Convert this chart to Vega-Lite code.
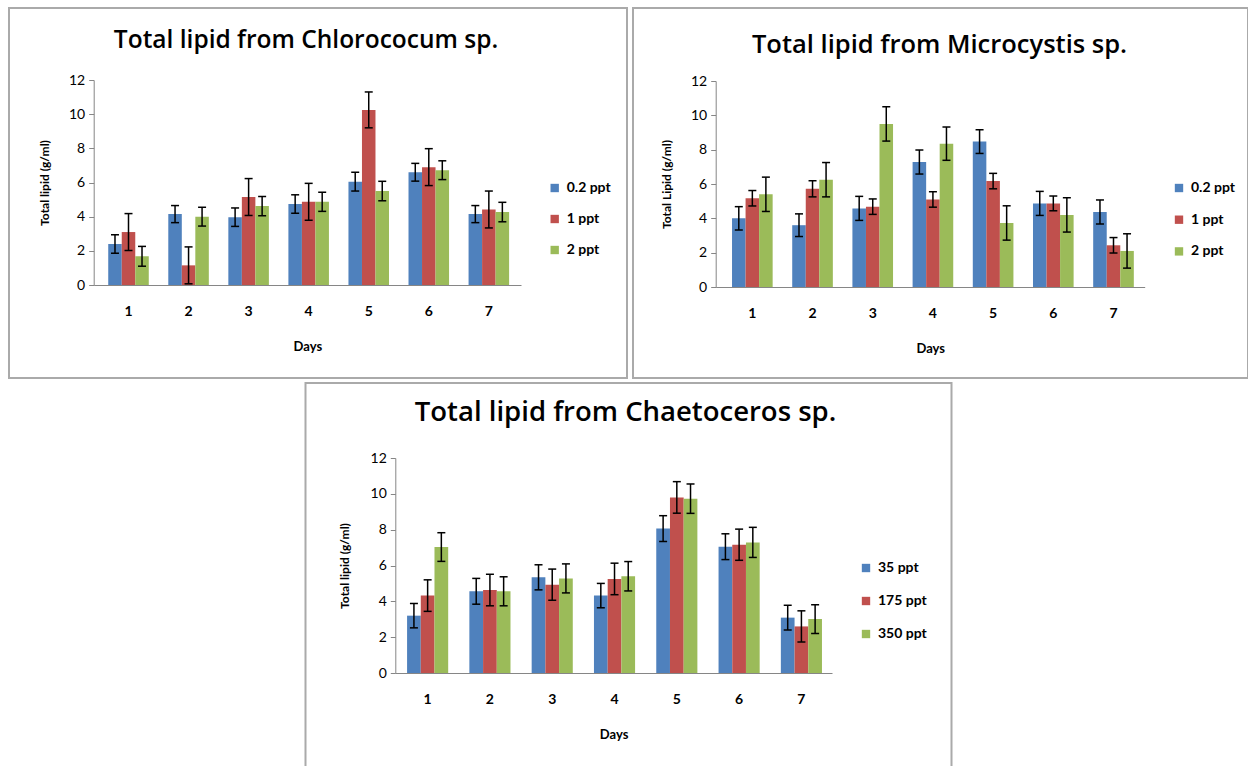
{
  "$schema": "https://vega.github.io/schema/vega-lite/v6.json",
  "padding": {"left": 8, "top": 7, "right": 0, "bottom": 0},
  "center": true,
  "spacing": 3,
  "resolve": {"scale": {"x": "independent", "y": "independent", "color": "independent", "xOffset": "independent"}, "legend": {"color": "independent"}},
  "config": {
    "font": "Lato",
    "view": {"stroke": "#aaaaaa", "strokeWidth": 2},
    "axisY": {"grid": false, "labelFontSize": 14, "labelColor": "#000000", "domainColor": "#868686", "tickColor": "#868686", "tickSize": 5, "labelPadding": 4, "titleFontSize": 12, "titleFontWeight": "bold", "titleColor": "#000000", "titlePadding": 17},
    "axisX": {"ticks": false, "grid": false, "labelAngle": 0, "labelFontSize": 14, "labelFontWeight": "bold", "labelColor": "#000000", "labelPadding": 19, "domainColor": "#868686", "titleFontSize": 13, "titleFontWeight": "bold", "titleColor": "#000000", "titlePadding": 22},
    "legend": {"orient": "none", "title": null, "symbolType": "square", "symbolSize": 70, "symbolStrokeWidth": 0, "labelFontSize": 14, "labelFontWeight": "bold", "labelColor": "#000000", "padding": 0, "labelOffset": 5},
    "title": {"font": "Open Sans", "fontWeight": 600, "color": "#000000", "baseline": "alphabetic", "anchor": "middle", "frame": "group"}
  },
  "vconcat": [
    {
      "resolve": {"scale": {"x": "independent", "y": "independent", "color": "independent", "xOffset": "independent"}, "legend": {"color": "independent"}},
      "hconcat": [
        {
          "width": 618, "height": 370,
          "title": {"text": "Total lipid from Chlorococum sp.", "fontSize": 24.5, "offset": -45, "dx": -12},
          "data": {"values": [
            {"day": "1", "group": "0.2 ppt", "value": 2.40, "lo": 1.86, "hi": 2.94},
            {"day": "1", "group": "1 ppt", "value": 3.10, "lo": 2.02, "hi": 4.18},
            {"day": "1", "group": "2 ppt", "value": 1.68, "lo": 1.10, "hi": 2.26},
            {"day": "2", "group": "0.2 ppt", "value": 4.15, "lo": 3.65, "hi": 4.65},
            {"day": "2", "group": "1 ppt", "value": 1.15, "lo": 0.07, "hi": 2.23},
            {"day": "2", "group": "2 ppt", "value": 4.00, "lo": 3.45, "hi": 4.55},
            {"day": "3", "group": "0.2 ppt", "value": 3.97, "lo": 3.43, "hi": 4.51},
            {"day": "3", "group": "1 ppt", "value": 5.15, "lo": 4.07, "hi": 6.23},
            {"day": "3", "group": "2 ppt", "value": 4.62, "lo": 4.06, "hi": 5.18},
            {"day": "4", "group": "0.2 ppt", "value": 4.74, "lo": 4.20, "hi": 5.28},
            {"day": "4", "group": "1 ppt", "value": 4.87, "lo": 3.79, "hi": 5.95},
            {"day": "4", "group": "2 ppt", "value": 4.87, "lo": 4.31, "hi": 5.43},
            {"day": "5", "group": "0.2 ppt", "value": 6.05, "lo": 5.50, "hi": 6.60},
            {"day": "5", "group": "1 ppt", "value": 10.25, "lo": 9.20, "hi": 11.30},
            {"day": "5", "group": "2 ppt", "value": 5.50, "lo": 4.93, "hi": 6.07},
            {"day": "6", "group": "0.2 ppt", "value": 6.60, "lo": 6.08, "hi": 7.12},
            {"day": "6", "group": "1 ppt", "value": 6.90, "lo": 5.82, "hi": 7.98},
            {"day": "6", "group": "2 ppt", "value": 6.72, "lo": 6.17, "hi": 7.27},
            {"day": "7", "group": "0.2 ppt", "value": 4.15, "lo": 3.65, "hi": 4.65},
            {"day": "7", "group": "1 ppt", "value": 4.42, "lo": 3.34, "hi": 5.50},
            {"day": "7", "group": "2 ppt", "value": 4.27, "lo": 3.70, "hi": 4.84}
          ]},
          "encoding": {
            "x": {"field": "day", "type": "nominal", "scale": {"range": [84.7, 512], "paddingInner": 0.325, "paddingOuter": 0.22, "align": 0.55}, "axis": {"title": "Days", "offset": -93}},
            "xOffset": {"field": "group", "type": "nominal", "scale": {"domain": ["0.2 ppt", "1 ppt", "2 ppt"], "paddingInner": 0, "paddingOuter": 0}}
          },
          "layer": [
            {"mark": {"type": "bar"},
             "encoding": {
               "y": {"field": "value", "type": "quantitative", "title": "Total lipid (g/ml)", "scale": {"domain": [0, 12], "range": [277, 72], "nice": false, "zero": true}, "axis": {"offset": -84.7, "values": [0, 2, 4, 6, 8, 10, 12]}},
               "color": {"field": "group", "type": "nominal", "scale": {"domain": ["0.2 ppt", "1 ppt", "2 ppt"], "range": ["#4f81bd", "#c0504d", "#9bbb59"]}, "legend": {"legendX": 538.7, "legendY": 173, "rowPadding": 17}}
             }},
            {"mark": {"type": "rule", "color": "#000000", "strokeWidth": 1.5},
             "encoding": {"y": {"field": "lo", "type": "quantitative", "title": "Total lipid (g/ml)"}, "y2": {"field": "hi"}}},
            {"mark": {"type": "tick", "color": "#000000", "thickness": 1.5, "size": 8, "opacity": 1},
             "encoding": {"y": {"field": "lo", "type": "quantitative", "title": "Total lipid (g/ml)"}}},
            {"mark": {"type": "tick", "color": "#000000", "thickness": 1.5, "size": 8, "opacity": 1},
             "encoding": {"y": {"field": "hi", "type": "quantitative", "title": "Total lipid (g/ml)"}}}
          ]
        },
        {
          "width": 615, "height": 370,
          "title": {"text": "Total lipid from Microcystis sp.", "fontSize": 25.5, "offset": -50, "dx": -1},
          "data": {"values": [
            {"day": "1", "group": "0.2 ppt", "value": 4.00, "lo": 3.32, "hi": 4.68},
            {"day": "1", "group": "1 ppt", "value": 5.17, "lo": 4.72, "hi": 5.62},
            {"day": "1", "group": "2 ppt", "value": 5.40, "lo": 4.40, "hi": 6.40},
            {"day": "2", "group": "0.2 ppt", "value": 3.60, "lo": 2.94, "hi": 4.26},
            {"day": "2", "group": "1 ppt", "value": 5.72, "lo": 5.25, "hi": 6.19},
            {"day": "2", "group": "2 ppt", "value": 6.25, "lo": 5.25, "hi": 7.25},
            {"day": "3", "group": "0.2 ppt", "value": 4.58, "lo": 3.88, "hi": 5.28},
            {"day": "3", "group": "1 ppt", "value": 4.68, "lo": 4.23, "hi": 5.13},
            {"day": "3", "group": "2 ppt", "value": 9.50, "lo": 8.50, "hi": 10.50},
            {"day": "4", "group": "0.2 ppt", "value": 7.28, "lo": 6.58, "hi": 7.98},
            {"day": "4", "group": "1 ppt", "value": 5.10, "lo": 4.65, "hi": 5.55},
            {"day": "4", "group": "2 ppt", "value": 8.35, "lo": 7.38, "hi": 9.32},
            {"day": "5", "group": "0.2 ppt", "value": 8.47, "lo": 7.78, "hi": 9.16},
            {"day": "5", "group": "1 ppt", "value": 6.17, "lo": 5.72, "hi": 6.62},
            {"day": "5", "group": "2 ppt", "value": 3.73, "lo": 2.73, "hi": 4.73},
            {"day": "6", "group": "0.2 ppt", "value": 4.87, "lo": 4.17, "hi": 5.57},
            {"day": "6", "group": "1 ppt", "value": 4.87, "lo": 4.44, "hi": 5.30},
            {"day": "6", "group": "2 ppt", "value": 4.20, "lo": 3.20, "hi": 5.20},
            {"day": "7", "group": "0.2 ppt", "value": 4.37, "lo": 3.67, "hi": 5.07},
            {"day": "7", "group": "1 ppt", "value": 2.43, "lo": 1.98, "hi": 2.88},
            {"day": "7", "group": "2 ppt", "value": 2.10, "lo": 1.10, "hi": 3.10}
          ]},
          "encoding": {
            "x": {"field": "day", "type": "nominal", "scale": {"range": [82.7, 511.7], "paddingInner": 0.325, "paddingOuter": 0.226, "align": 0.6}, "axis": {"title": "Days", "offset": -91}},
            "xOffset": {"field": "group", "type": "nominal", "scale": {"domain": ["0.2 ppt", "1 ppt", "2 ppt"], "paddingInner": 0, "paddingOuter": 0}}
          },
          "layer": [
            {"mark": {"type": "bar"},
             "encoding": {
               "y": {"field": "value", "type": "quantitative", "title": "Total Lipid (g/ml)", "scale": {"domain": [0, 12], "range": [279, 73], "nice": false, "zero": true}, "axis": {"offset": -82.7, "values": [0, 2, 4, 6, 8, 10, 12]}},
               "color": {"field": "group", "type": "nominal", "scale": {"domain": ["0.2 ppt", "1 ppt", "2 ppt"], "range": ["#4f81bd", "#c0504d", "#9bbb59"]}, "legend": {"legendX": 539, "legendY": 173, "rowPadding": 17.7}}
             }},
            {"mark": {"type": "rule", "color": "#000000", "strokeWidth": 1.5},
             "encoding": {"y": {"field": "lo", "type": "quantitative", "title": "Total Lipid (g/ml)"}, "y2": {"field": "hi"}}},
            {"mark": {"type": "tick", "color": "#000000", "thickness": 1.5, "size": 8, "opacity": 1},
             "encoding": {"y": {"field": "lo", "type": "quantitative", "title": "Total Lipid (g/ml)"}}},
            {"mark": {"type": "tick", "color": "#000000", "thickness": 1.5, "size": 8, "opacity": 1},
             "encoding": {"y": {"field": "hi", "type": "quantitative", "title": "Total Lipid (g/ml)"}}}
          ]
        }
      ],
      "spacing": 4
    },
    {
      "width": 646, "height": 386,
      "title": {"text": "Total lipid from Chaetoceros sp.", "fontSize": 27.5, "offset": -43, "dx": -3},
      "data": {"values": [
        {"day": "1", "group": "35 ppt", "value": 3.20, "lo": 2.52, "hi": 3.88},
        {"day": "1", "group": "175 ppt", "value": 4.32, "lo": 3.44, "hi": 5.20},
        {"day": "1", "group": "350 ppt", "value": 7.03, "lo": 6.23, "hi": 7.83},
        {"day": "2", "group": "35 ppt", "value": 4.56, "lo": 3.84, "hi": 5.28},
        {"day": "2", "group": "175 ppt", "value": 4.63, "lo": 3.75, "hi": 5.51},
        {"day": "2", "group": "350 ppt", "value": 4.56, "lo": 3.75, "hi": 5.37},
        {"day": "3", "group": "35 ppt", "value": 5.34, "lo": 4.64, "hi": 6.04},
        {"day": "3", "group": "175 ppt", "value": 4.93, "lo": 4.06, "hi": 5.80},
        {"day": "3", "group": "350 ppt", "value": 5.28, "lo": 4.47, "hi": 6.09},
        {"day": "4", "group": "35 ppt", "value": 4.32, "lo": 3.64, "hi": 5.00},
        {"day": "4", "group": "175 ppt", "value": 5.25, "lo": 4.37, "hi": 6.13},
        {"day": "4", "group": "350 ppt", "value": 5.40, "lo": 4.58, "hi": 6.22},
        {"day": "5", "group": "35 ppt", "value": 8.06, "lo": 7.34, "hi": 8.78},
        {"day": "5", "group": "175 ppt", "value": 9.80, "lo": 8.92, "hi": 10.68},
        {"day": "5", "group": "350 ppt", "value": 9.73, "lo": 8.91, "hi": 10.55},
        {"day": "6", "group": "35 ppt", "value": 7.05, "lo": 6.33, "hi": 7.77},
        {"day": "6", "group": "175 ppt", "value": 7.16, "lo": 6.29, "hi": 8.03},
        {"day": "6", "group": "350 ppt", "value": 7.29, "lo": 6.45, "hi": 8.13},
        {"day": "7", "group": "35 ppt", "value": 3.09, "lo": 2.40, "hi": 3.78},
        {"day": "7", "group": "175 ppt", "value": 2.60, "lo": 1.73, "hi": 3.47},
        {"day": "7", "group": "350 ppt", "value": 3.01, "lo": 2.21, "hi": 3.81}
      ]},
      "encoding": {
        "x": {"field": "day", "type": "nominal", "scale": {"range": [89.8, 526.5], "paddingInner": 0.34, "paddingOuter": 0.175, "align": 0.54}, "axis": {"title": "Days", "offset": -96}},
        "xOffset": {"field": "group", "type": "nominal", "scale": {"domain": ["35 ppt", "175 ppt", "350 ppt"], "paddingInner": 0, "paddingOuter": 0}}
      },
      "layer": [
        {"mark": {"type": "bar"},
         "encoding": {
           "y": {"field": "value", "type": "quantitative", "title": "Total lipid (g/ml)", "scale": {"domain": [0, 12], "range": [290, 75], "nice": false, "zero": true}, "axis": {"offset": -89.8, "values": [0, 2, 4, 6, 8, 10, 12], "titlePadding": 19}},
           "color": {"field": "group", "type": "nominal", "scale": {"domain": ["35 ppt", "175 ppt", "350 ppt"], "range": ["#4f81bd", "#c0504d", "#9bbb59"]}, "legend": {"legendX": 553.5, "legendY": 178, "rowPadding": 19}}
         }},
        {"mark": {"type": "rule", "color": "#000000", "strokeWidth": 1.5},
         "encoding": {"y": {"field": "lo", "type": "quantitative", "title": "Total lipid (g/ml)"}, "y2": {"field": "hi"}}},
        {"mark": {"type": "tick", "color": "#000000", "thickness": 1.5, "size": 8, "opacity": 1},
         "encoding": {"y": {"field": "lo", "type": "quantitative", "title": "Total lipid (g/ml)"}}},
        {"mark": {"type": "tick", "color": "#000000", "thickness": 1.5, "size": 8, "opacity": 1},
         "encoding": {"y": {"field": "hi", "type": "quantitative", "title": "Total lipid (g/ml)"}}}
      ]
    }
  ]
}
